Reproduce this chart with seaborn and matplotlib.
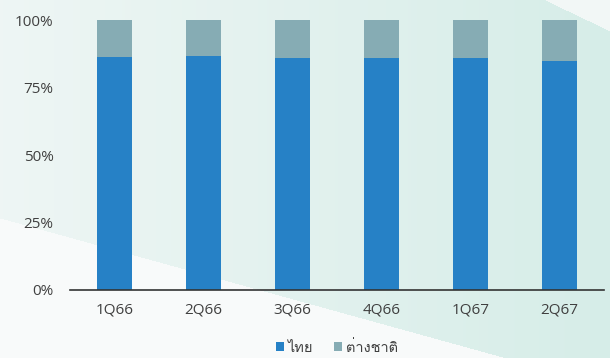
import numpy as np
import pandas as pd
import matplotlib
matplotlib.use("Agg")
import matplotlib.pyplot as plt
from matplotlib import font_manager
from matplotlib.ft2font import FT2Font
import seaborn as sns

# ── Data ────────────────────────────────────────────────
quarters = ["1Q66", "2Q66", "3Q66", "4Q66", "1Q67", "2Q67"]
thai_share = [86.4, 86.7, 85.9, 85.9, 85.8, 85.0]
foreign_share = [100 - v for v in thai_share]
series_names = ["ไทย", "ต่างชาติ"]

BLUE = "#2681C6"
GREY = "#86ACB4"
TEXT = "#404040"


# ── Find a font that can draw Thai ──────────────────────
def find_thai_font():
    found = []
    for f in font_manager.fontManager.ttflist:
        try:
            cmap = FT2Font(f.fname).get_charmap()
        except Exception:
            continue
        if 0x0E44 in cmap and 0x0E17 in cmap:
            found.append(f.name)
    return found


thai_fonts = find_thai_font()

sns.set_theme(style="white")
plt.rcParams["font.family"] = ["Open Sans"] + thai_fonts[:1] + ["DejaVu Sans"]

df = pd.DataFrame({"quarter": quarters, "thai": thai_share,
                   "total": [t + f for t, f in zip(thai_share, foreign_share)]})

fig = plt.figure(figsize=(6.10, 3.58), dpi=100)

# ── Background: soft teal wash with a white lower-left wedge ──
bg = fig.add_axes([0, 0, 1, 1], zorder=-10)
h, w = 358, 610
yy, xx = np.mgrid[0:h, 0:w]
t = np.clip(xx / w, 0, 1)
white = np.array([0.965, 0.975, 0.975])
teal = np.array([0.84, 0.93, 0.91])
img = white + (teal - white) * (0.25 + 0.75 * t)[..., None]
# lower-left lighter wedge
mask = yy > 218 + (358 - 218) * xx / 506
img[mask] = np.array([0.975, 0.982, 0.982])
# top-right white corner
mask2 = yy < (xx - 545) * 31 / 65
img[mask2] = np.array([0.95, 0.97, 0.965])
bg.imshow(img, aspect="auto", extent=[0, 1, 0, 1])
bg.axis("off")

ax = fig.add_axes([0.115, 0.19, 0.875, 0.754])
ax.patch.set_alpha(0)

sns.barplot(data=df, x="quarter", y="total", color=GREY, width=0.39,
            saturation=1, linewidth=0, label=series_names[1], ax=ax)
sns.barplot(data=df, x="quarter", y="thai", color=BLUE, width=0.39,
            saturation=1, linewidth=0, label=series_names[0], ax=ax)

ax.set_ylim(0, 100)
ax.set_yticks([0, 25, 50, 75, 100])
ax.set_yticklabels([f"{v}%" for v in [0, 25, 50, 75, 100]])
ax.set_xlabel("")
ax.set_ylabel("")
ax.tick_params(axis="both", colors=TEXT, labelsize=11, length=0)
ax.tick_params(axis="y", pad=12)
ax.tick_params(axis="x", pad=9)
for side in ["top", "right", "left"]:
    ax.spines[side].set_visible(False)
ax.spines["bottom"].set_color("#333333")
ax.spines["bottom"].set_linewidth(1.2)
for p in ax.patches:
    p.set_clip_on(False)

handles, labels = ax.get_legend_handles_labels()
order = [labels.index(n) for n in series_names]
ax.legend([handles[i] for i in order], [labels[i] for i in order],
          loc="center", bbox_to_anchor=(0.5, -0.215), ncol=2, frameon=False,
          fontsize=10.5, handlelength=0.55, handleheight=0.55, handletextpad=0.3,
          columnspacing=1.4, labelcolor=TEXT, borderpad=0)

fig.savefig("out.png", dpi=100)
